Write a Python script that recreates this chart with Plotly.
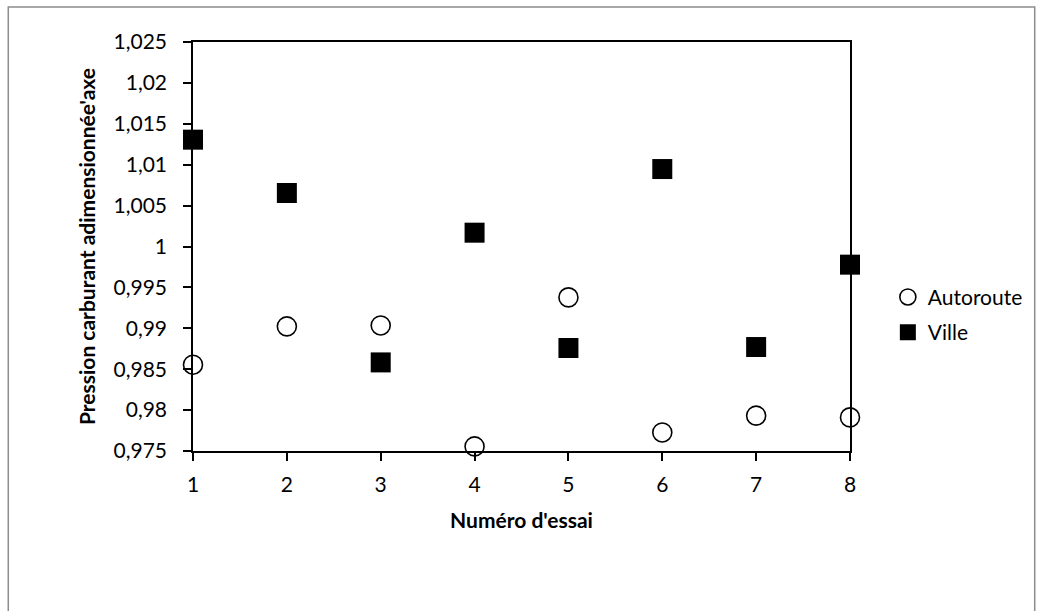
import plotly.graph_objects as go

essai = [1, 2, 3, 4, 5, 6, 7, 8]
autoroute = [0.98555, 0.99023, 0.99035, 0.97556, 0.99378, 0.97727, 0.97932, 0.97911]
ville = [1.01306, 1.00654, 0.98583, 1.00169, 0.98759, 1.00947, 0.98771, 0.99778]
y_ticks = [0.975, 0.98, 0.985, 0.99, 0.995, 1.0, 1.005, 1.01, 1.015, 1.02, 1.025]
y_labels = ["0,975", "0,98", "0,985", "0,99", "0,995", "1", "1,005", "1,01", "1,015", "1,02", "1,025"]

FONT = "Lato, Carlito, Calibri, sans-serif"
FS = 21

fig = go.Figure()
fig.add_trace(go.Scatter(
    x=essai, y=autoroute, mode="markers", name="Autoroute",
    legendgroup="a",
    marker=dict(symbol="circle-open", size=19, color="black", line=dict(width=1.6, color="black")),
    cliponaxis=False,
))
fig.add_trace(go.Scatter(
    x=essai, y=ville, mode="markers", name="Ville",
    legendgroup="v",
    marker=dict(symbol="square", size=20, color="black"),
    cliponaxis=False,
))

fig.update_layout(
    width=1039, height=611,
    margin=dict(l=193, r=188, t=42, b=160),
    paper_bgcolor="white", plot_bgcolor="white",
    font=dict(family=FONT, size=FS, color="black"),
    showlegend=True,
    legend=dict(x=1.056, y=0.333, xanchor="left", yanchor="middle",
                font=dict(family=FONT, size=FS, color="black"),
                traceorder="grouped", tracegroupgap=5,
                bgcolor="rgba(0,0,0,0)"),
    xaxis=dict(
        range=[1, 8], tickmode="array", tickvals=essai, ticktext=[str(v) for v in essai],
        showgrid=False, zeroline=False, showline=True, linecolor="black", linewidth=1.5,
        mirror=True, ticks="outside", ticklen=8, tickwidth=1.5, tickcolor="black",
        layer="below traces", tickfont=dict(size=FS), ticklabelstandoff=6,
        title=dict(text="<b>Numéro d'essai</b>", font=dict(family=FONT, size=FS), standoff=18),
    ),
    yaxis=dict(
        range=[0.975, 1.025], tickmode="array", tickvals=y_ticks, ticktext=y_labels,
        showgrid=False, zeroline=False, showline=True, linecolor="black", linewidth=1.5,
        mirror=True, ticks="outside", ticklen=8, tickwidth=1.5, tickcolor="black",
        layer="below traces", tickfont=dict(size=FS), ticklabelstandoff=12,
        title=dict(text="<b>Pression carburant adimensionnée'axe</b>", font=dict(family=FONT, size=FS), standoff=12),
    ),
    shapes=[dict(type="rect", xref="paper", yref="paper",
                 x0=(8 - 193) / 658, x1=(1036 - 193) / 658,
                 y0=(451 - 620) / 409, y1=(451 - 7) / 409,
                 line=dict(color="#8c8c8c", width=1.5), fillcolor="rgba(0,0,0,0)", layer="below")],
)

fig.write_html("out.html", config={"displayModeBar": False},
               post_script="document.body.style.margin='0';document.body.style.overflow='hidden';")
